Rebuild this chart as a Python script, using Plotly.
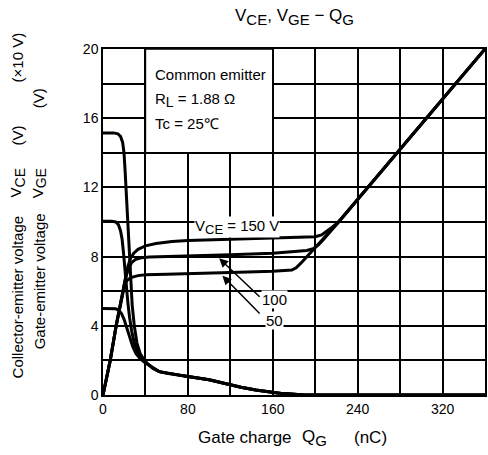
import plotly.graph_objects as go

# ---- Gate-emitter voltage V_GE (V) vs gate charge Q_G (nC), per V_CE ----
qg_vge_50 = [0, 6.8, 12.4, 18.6, 20.5, 23, 27, 33, 40, 60, 80, 120, 160, 172, 178, 182, 186.5, 222, 360]
vge_50 = [0, 2, 4, 6, 6.4, 6.65, 6.8, 6.9, 6.95, 6.98, 7.0, 7.08, 7.15, 7.18, 7.22, 7.35, 7.62, 10, 20]

qg_vge_100 = [0, 6.8, 12.4, 18.6, 21, 24, 27, 31, 36, 44, 60, 80, 120, 160, 185, 192, 198, 203, 208, 222, 360]
vge_100 = [0, 2, 4, 6, 6.7, 7.3, 7.65, 7.85, 7.93, 7.97, 7.99, 8.02, 8.1, 8.2, 8.3, 8.35, 8.45, 8.68, 9.0, 10, 20]

qg_vge_150 = [0, 6.8, 12.4, 18.6, 21, 23.5, 26, 29, 33, 40, 50, 65, 80, 120, 160, 190, 200, 206, 211, 216, 222, 360]
vge_150 = [0, 2, 4, 6, 6.8, 7.45, 7.9, 8.2, 8.42, 8.62, 8.76, 8.87, 8.93, 9.0, 9.05, 9.1, 9.15, 9.25, 9.45, 9.7, 10, 20]

# ---- Collector-emitter voltage V_CE (x10 V) vs gate charge Q_G (nC) ----
qg_vce_150 = [0, 10, 14, 16.5, 18.5, 19.8, 20.8, 21.8, 22.8, 23.8, 24.8, 26, 27.5, 29.5, 32, 35, 39]
vce_150 = [15.15, 15.15, 15.1, 14.95, 14.6, 14.0, 13.0, 11.8, 10.5, 9.2, 8.0, 6.6, 5.2, 4.0, 3.0, 2.4, 2.0]

qg_vce_100 = [0, 8, 12, 14.5, 16.5, 18, 19.2, 20.5, 22, 23.5, 25, 27, 29.5, 32.5, 36, 40]
vce_100 = [10.05, 10.05, 10.0, 9.85, 9.5, 9.0, 8.3, 7.3, 6.2, 5.3, 4.5, 3.7, 3.0, 2.5, 2.1, 1.85]

qg_vce_50 = [0, 8, 12, 15, 17.5, 20, 22.5, 25, 28, 31, 35, 39]
vce_50 = [5.0, 5.0, 4.98, 4.9, 4.7, 4.35, 3.9, 3.35, 2.8, 2.4, 2.1, 1.9]

# shared tail once the collector voltage has collapsed
qg_vce_tail = [43, 47, 53, 60, 72, 80, 90, 100, 110, 120, 130, 144, 152, 161, 170, 178, 190, 360]
vce_tail = [1.75, 1.55, 1.35, 1.26, 1.15, 1.07, 0.98, 0.88, 0.74, 0.58, 0.45, 0.29, 0.21, 0.14, 0.08, 0.04, 0, 0]

x_ticks = [0, 80, 160, 240, 320]
y_ticks = [0, 4, 8, 12, 16, 20]

FONT = "Liberation Sans, Arial, sans-serif"
LW = 3


def sub(s, size):
    # subscript drawn only slightly smaller than the base text
    return f"<sub><span style='font-size:{size}px'>{s}</span></sub>"


fig = go.Figure()

for qx, vy in [(qg_vge_50, vge_50), (qg_vge_100, vge_100), (qg_vge_150, vge_150)]:
    fig.add_trace(go.Scatter(x=qx, y=vy, mode="lines",
                             line=dict(color="black", width=LW), hoverinfo="skip"))

for qx, vy in [(qg_vce_150, vce_150), (qg_vce_100, vce_100), (qg_vce_50, vce_50)]:
    fig.add_trace(go.Scatter(x=qx + qg_vce_tail, y=vy + vce_tail, mode="lines",
                             line=dict(color="black", width=LW), hoverinfo="skip"))

# condition box in the upper-left corner
fig.add_shape(type="rect", xref="x", yref="y", x0=40, x1=160, y0=14, y1=20,
              fillcolor="white", line=dict(color="black", width=1.5), layer="above")

ann = []
box_lines = [("Common emitter", 18.5), ("R" + sub("L", 14) + " = 1.88 Ω", 17.05), ("Tc = 25℃", 15.7)]
for txt, yv in box_lines:
    ann.append(dict(x=47, y=yv, xref="x", yref="y", text=txt, showarrow=False,
                    xanchor="left", yanchor="middle", font=dict(size=15)))

# curve labels
ann.append(dict(x=126, y=9.7, xref="x", yref="y", text="V" + sub("CE", 13) + " = 150 V",
                showarrow=False, bgcolor="white", font=dict(size=15), borderpad=0))
ann.append(dict(x=162, y=5.5, xref="x", yref="y", text="100", showarrow=False,
                bgcolor="white", font=dict(size=15), borderpad=0))
ann.append(dict(x=162, y=4.3, xref="x", yref="y", text="50", showarrow=False,
                bgcolor="white", font=dict(size=15), borderpad=0))

# pointer arrows
for tail, tip in [((149, 5.6), (109.5, 7.9)), ((149, 4.62), (112.5, 6.9))]:
    ann.append(dict(x=tip[0], y=tip[1], ax=tail[0], ay=tail[1], xref="x", yref="y",
                    axref="x", ayref="y", text="", showarrow=True, arrowhead=2,
                    arrowsize=1.2, arrowwidth=1.5, arrowcolor="black", standoff=0))

# figure title
ann.append(dict(x=0.5, y=(395 - 17) / 346, xref="paper", yref="paper",
                text="V" + sub("CE", 15) + ", V" + sub("GE", 15) + " − Q" + sub("G", 15),
                showarrow=False, xanchor="center", yanchor="middle", font=dict(size=17)))


def px_x(px):
    return (px - 103) / 384


def px_y(py):
    return (395 - py) / 346


# y-axis title, two aligned rotated lines
ylab = [
    ("Collector-emitter voltage", 17, 297),
    ("V" + sub("CE", 14), 17, 183),
    ("(V)", 17, 135),
    ("(×10 V)", 17, 57),
    ("Gate-emitter voltage", 39, 281),
    ("V" + sub("GE", 14), 39, 183),
    ("(V)", 39, 98),
]
for txt, px, py in ylab:
    ann.append(dict(x=px_x(px), y=px_y(py), xref="paper", yref="paper", text=txt,
                    showarrow=False, textangle=-90, xanchor="center", yanchor="middle",
                    font=dict(size=15)))

# x-axis title
xlab = [("Gate charge", 246), ("Q" + sub("G", 15), 316), ("(nC)", 372)]
for txt, px in xlab:
    ann.append(dict(x=px_x(px), y=px_y(438), xref="paper", yref="paper", text=txt,
                    showarrow=False, xanchor="center", yanchor="middle",
                    font=dict(size=17)))

fig.update_layout(
    width=488, height=455,
    margin=dict(l=103, r=1, t=49, b=60),
    paper_bgcolor="white", plot_bgcolor="white",
    showlegend=False,
    font=dict(family=FONT, color="black", size=14),
    annotations=ann,
)

fig.update_xaxes(range=[0, 360], tickvals=x_ticks, ticks="", showgrid=True,
                 gridcolor="black", gridwidth=1.5, zeroline=False,
                 showline=True, linecolor="black", linewidth=1.5, mirror=True,
                 minor=dict(dtick=40, showgrid=True, gridcolor="black", gridwidth=1.5),
                 tickfont=dict(size=14), fixedrange=True)
fig.update_yaxes(range=[0, 20], tickvals=y_ticks, ticks="", showgrid=True,
                 gridcolor="black", gridwidth=1.5, zeroline=False,
                 showline=True, linecolor="black", linewidth=1.5, mirror=True,
                 minor=dict(dtick=2, showgrid=True, gridcolor="black", gridwidth=1.5),
                 tickfont=dict(size=14), fixedrange=True)

fig.write_html("out.html")
